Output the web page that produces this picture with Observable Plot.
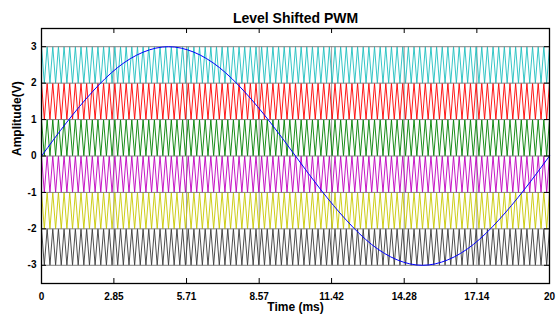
<!DOCTYPE html>
<html><head><meta charset="utf-8">
<script src="https://cdn.jsdelivr.net/npm/d3@7"></script>
<script src="https://cdn.jsdelivr.net/npm/@observablehq/plot@0.6"></script>
<style>
html,body{margin:0;padding:0;background:#fff;}
svg{font-family:"Liberation Sans Narrow","Liberation Sans",Arial,sans-serif;}
</style>
</head><body>
<div id="chart"></div>
<script>
const title = "Level Shifted PWM";
const xLabel = "Time (ms)";
const yLabel = "Amplitude(V)";
const xTicks = [0, 2.85, 5.71, 8.57, 11.42, 14.28, 17.14, 20];
const yTicks = [-3, -2, -1, 0, 1, 2, 3];
const bandBottoms = [2, 1, 0, -1, -2, -3];
const bandColors = ["#1ec0c0", "#ff0000", "#008000", "#c000c0", "#c8c800", "#3a3a3a"];
const carrierCycles = 90;
const periodMs = 20;
const sineTime = [0,1,2,3,4,5,6,7,8,9,10,11,12,13,14,15,16,17,18,19,20];
const sineValues = [0,0.93,1.76,2.43,2.85,3,2.85,2.43,1.76,0.93,0,-0.93,-1.76,-2.43,-2.85,-3,-2.85,-2.43,-1.76,-0.93,0];

// carrier vertices (peaks and troughs)
const carriers = [];
bandBottoms.forEach((b, i) => {
  for (let k = 0; k <= 2 * carrierCycles; k++) {
    carriers.push({band: i, t: k * periodMs / (2 * carrierCycles), v: b + (k % 2 === 0 ? 1 : 0)});
  }
});
const sine = sineTime.map((t, i) => ({t, v: sineValues[i]}));

const W = 556, H = 325, mL = 41, mR = 7, mT = 28, mB = 42;
const fw = W - mL - mR, fh = H - mT - mB;

const plot = Plot.plot({
  width: W, height: H,
  marginLeft: mL, marginRight: mR, marginTop: mT, marginBottom: mB,
  style: {fontSize: "10px", fontWeight: "bold", color: "#000", background: "#fff"},
  x: {domain: [0, 20], ticks: xTicks, tickFormat: d => String(d), label: null},
  y: {domain: [-3.5, 3.5], ticks: yTicks, tickFormat: d => String(d), label: null},
  color: {domain: d3.range(bandColors.length), range: bandColors},
  marks: [
    Plot.ruleX(xTicks, {x: d => d, y1: -3, y2: 3, stroke: "#a0a0a0", strokeWidth: 1}),
    Plot.line(carriers, {x: "t", y: "v", z: "band", stroke: "band", strokeWidth: 0.9}),
    Plot.ruleY(yTicks, {y: d => d, stroke: "#808080", strokeWidth: 1}),
    Plot.line(sine, {x: "t", y: "v", stroke: "#0000ff", strokeWidth: 1, curve: "natural"}),
    Plot.frame({stroke: "#000", strokeWidth: 1.3}),
    Plot.tickX(xTicks, {x: d => d, insetBottom: fh - 5, stroke: "#000"}),
    Plot.tickX(xTicks, {x: d => d, insetTop: fh - 5, stroke: "#000"}),
    Plot.tickY(yTicks, {y: d => d, insetRight: fw - 5, stroke: "#000"}),
    Plot.tickY(yTicks, {y: d => d, insetLeft: fw - 5, stroke: "#000"}),
    Plot.axisX({ticks: xTicks, tickSize: 0, tickPadding: 9, tickFormat: d => String(d), label: null, fontSize: 10, fontWeight: "bold"}),
    Plot.axisY({ticks: yTicks, tickSize: 0, tickPadding: 5, tickFormat: d => String(d), label: null, fontSize: 10, fontWeight: "bold"}),
    Plot.text([title], {frameAnchor: "top", dy: -15, text: d => d, fontSize: 14, fontWeight: "bold"}),
    Plot.text([xLabel], {frameAnchor: "bottom", dy: 27, text: d => d, fontSize: 12, fontWeight: "bold"}),
    Plot.text([yLabel], {frameAnchor: "left", dx: -24, rotate: -90, text: d => d, fontSize: 12, fontWeight: "bold"})
  ]
});
document.getElementById("chart").appendChild(plot);
</script>
</body></html>
